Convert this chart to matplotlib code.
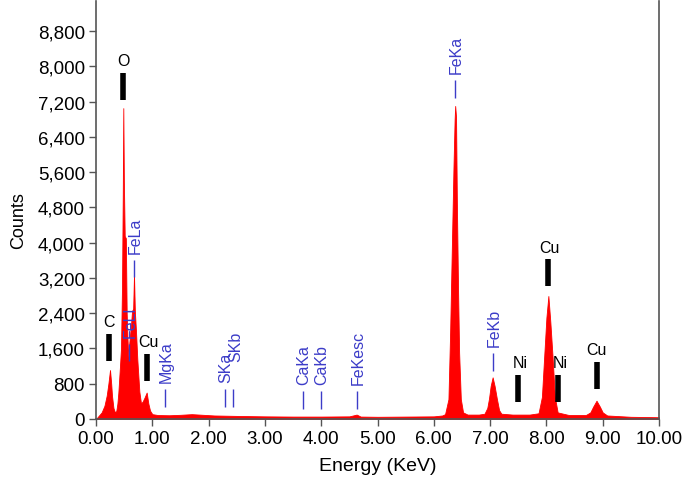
import matplotlib
matplotlib.use("Agg")
import matplotlib.pyplot as plt
from matplotlib.ticker import FuncFormatter

plt.rcParams['font.family'] = ['Liberation Sans', 'DejaVu Sans']

# Spectrum envelope (energy in keV, counts)
energy = [0.00, 0.04, 0.10, 0.15, 0.19, 0.22, 0.249, 0.27, 0.284, 0.31, 0.337, 0.36, 0.38,
          0.397, 0.426, 0.444, 0.462, 0.475, 0.485, 0.495, 0.51, 0.53, 0.545, 0.56, 0.574,
          0.59, 0.604, 0.62, 0.64, 0.66, 0.675, 0.69, 0.71, 0.734, 0.77, 0.80, 0.83, 0.86,
          0.90, 0.93, 0.96, 1.00, 1.10, 1.30, 1.50, 1.70, 1.90, 2.10, 2.30, 2.50, 3.00,
          3.50, 4.00, 4.50, 4.63, 4.70, 5.00, 5.50, 6.00, 6.15, 6.20, 6.26, 6.29, 6.32,
          6.35, 6.37, 6.38, 6.395, 6.41, 6.43, 6.45, 6.48, 6.52, 6.60, 6.80, 6.90, 6.95,
          6.98, 7.01, 7.045, 7.08, 7.12, 7.16, 7.20, 7.40, 7.70, 7.86, 7.92, 7.96, 8.00,
          8.035, 8.07, 8.11, 8.15, 8.20, 8.40, 8.70, 8.78, 8.83, 8.89, 8.95, 9.00, 9.08,
          9.50, 10.00]
counts = [0, 60, 150, 300, 530, 800, 1110, 800, 530, 250, 150, 180, 350,
          600, 1200, 1600, 3000, 5000, 7050, 5400, 4150, 4100, 2400, 1800, 1400,
          1700, 1900, 2100, 2450, 2500, 3280, 2450, 2000, 1350, 620, 350, 400, 480,
          600, 350, 190, 110, 90, 85, 95, 110, 95, 80, 75, 70, 60,
          55, 55, 60, 100, 55, 50, 55, 60, 80, 110, 450, 1960, 3850,
          5730, 6800, 7100, 6850, 4900, 3000, 1500, 450, 150, 100, 100, 120, 250,
          460, 750, 945, 750, 460, 200, 120, 100, 100, 130, 500, 1400, 2300,
          2790, 2200, 1400, 500, 150, 90, 90, 150, 280, 415, 280, 150, 80,
          50, 40]

# Element markers (black bars)
elem_labels = ['O', 'C', 'Cu', 'Cu', 'Ni', 'Ni', 'Cu']
elem_energy = [0.485, 0.236, 0.90, 8.03, 7.50, 8.21, 8.89]
elem_bar_low = [7240, 1310, 860, 3010, 385, 385, 680]

# Line markers (blue)
line_labels = ['FeKa', 'FeKb', 'FeLa', 'FeLl', 'MgKa', 'SKa', 'SKb', 'CaKa', 'CaKb', 'FeKesc']
line_energy = [6.38, 7.045, 0.675, 0.587, 1.225, 2.29, 2.43, 3.67, 3.99, 4.63]
line_low = [7285, 1090, 3210, 1310, 270, 270, 270, 225, 225, 225]

yticks = list(range(0, 8801, 800))
xticks = [0, 1, 2, 3, 4, 5, 6, 7, 8, 9, 10]

fig = plt.figure(figsize=(6.85, 4.81), dpi=100)
ax = fig.add_axes([96/685, 61/481, 563/685, 418/481])

red = '#ff0000'
blue = '#3c3cc8'
gray = '#555555'

ax.fill_between(energy, 0, counts, color=red, linewidth=0.6, edgecolor=red)
ax.set_xlim(0, 10)
ax.set_ylim(0, 9480)

# black element bars
bar_len = 610
for lab, e, lo in zip(elem_labels, elem_energy, elem_bar_low):
    ax.vlines(e, lo, lo + bar_len, color='black', linewidth=4)
    dx = 0.03 if lab in ('Cu', 'Ni') and e < 8.5 else 0.0
    ax.text(e + dx, lo + bar_len + 110, lab, ha='center', va='bottom', fontsize=11.5, color='black')

# blue line labels
line_len = 400
for lab, e, lo in zip(line_labels, line_energy, line_low):
    ax.vlines(e, lo, lo + line_len, color=blue, linewidth=1.0)
    tx = e + 0.02
    ty = lo + line_len + 160
    if lab == 'SKb':
        tx = e + 0.06
        ty = lo + line_len + 640
    ax.text(tx, ty, lab, rotation=90, ha='center', va='bottom', fontsize=11.5, color=blue)

ax.set_xticks(xticks)
ax.set_yticks(yticks)
ax.xaxis.set_major_formatter(FuncFormatter(lambda v, p: f"{v:.2f}"))
ax.yaxis.set_major_formatter(FuncFormatter(lambda v, p: f"{v:,.0f}"))
ax.tick_params(direction='out', length=5, width=1, color=gray, labelsize=13.5,
               labelcolor='black', pad=3)

for s in ['left', 'bottom', 'right']:
    ax.spines[s].set_color(gray)
    ax.spines[s].set_linewidth(1.2)
ax.spines['top'].set_visible(False)

ax.set_xlabel('Energy (KeV)', fontsize=14, labelpad=7)
ax.set_ylabel('Counts', fontsize=13)
ax.yaxis.set_label_coords(-0.122, 0.477)

fig.savefig('out.png', dpi=100)
